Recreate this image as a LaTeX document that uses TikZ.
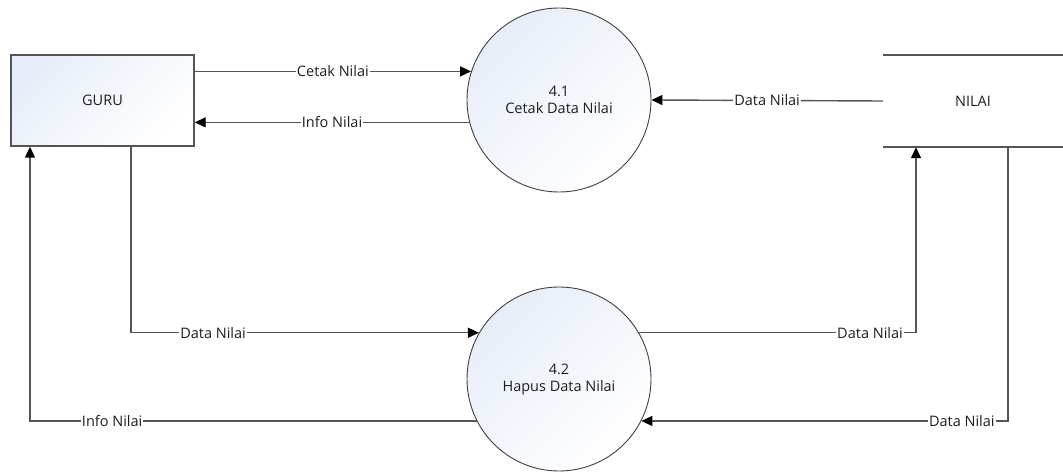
\documentclass[tikz,border=0pt]{standalone}
\usepackage{fontspec}
\setmainfont{Open Sans}
\usepackage{tikz}
\usetikzlibrary{arrows.meta}

\definecolor{shadeblue}{RGB}{231,237,248}
\definecolor{linegray}{RGB}{85,85,85}
\definecolor{textgray}{RGB}{30,30,30}

\begin{document}
\begin{tikzpicture}[x=1bp, y=-1bp,
                    every node/.style={font=\fontsize{14.5bp}{17bp}\selectfont, text=textgray},
                    entity/.style={draw=linegray, line width=1.4bp, rectangle,
                                   minimum width=183bp, minimum height=91bp,
                                   top color=shadeblue, bottom color=white, shading angle=45},
                    process/.style={draw=black!75, line width=0.9bp, circle, align=center,
                                    minimum size=184bp, inner sep=0,
                                    top color=shadeblue, bottom color=white, shading angle=45},
                    store/.style={rectangle, minimum width=180bp, minimum height=92bp},
                    flow/.style={draw=linegray, line width=1.4bp,
                                 -{Triangle[length=11bp, width=10bp, color=black]}},
                    lbl/.style={fill=white, inner sep=1bp}]
                \useasboundingbox (0,0) rectangle (1063,472);

                \node [entity] (guru) at (102.5,100.5) {GURU};
                \node [process] (p41) at (559,100) {4.1\\Cetak Data Nilai};
                \node [process] (p42) at (559,379) {4.2\\Hapus Data Nilai};
                \node [store] (nilai) at (973,101) {NILAI};
                \draw [linegray, line width=1.6bp] (nilai.north west) -- (nilai.north east);
                \draw [linegray, line width=1.6bp] (nilai.south west) -- (nilai.south east);

                \draw [flow] (guru.east |- p41.162) -- node [lbl] {Cetak Nilai} (p41.162);
                \draw [flow] (p41.194) -- node [lbl] {Info Nilai} (guru.east |- p41.194);
                \draw [flow] (nilai.west) -- node [lbl] {Data Nilai} (p41.east);

                \draw [flow] ([xshift=28.5bp]guru.south) |- node [lbl, pos=0.618] {Data Nilai} (p42.150);
                \draw [flow] (p42.207) -| node [lbl, pos=0.408] {Info Nilai} ([xshift=-72.5bp]guru.south);
                \draw [flow] (p42.30) -| node [lbl, pos=0.417] {Data Nilai} ([xshift=-57bp]nilai.south);
                \draw [flow] ([xshift=35bp]nilai.south) |- node [lbl, pos=0.563] {Data Nilai} (p42.-27);
            \end{tikzpicture}
\end{document}
